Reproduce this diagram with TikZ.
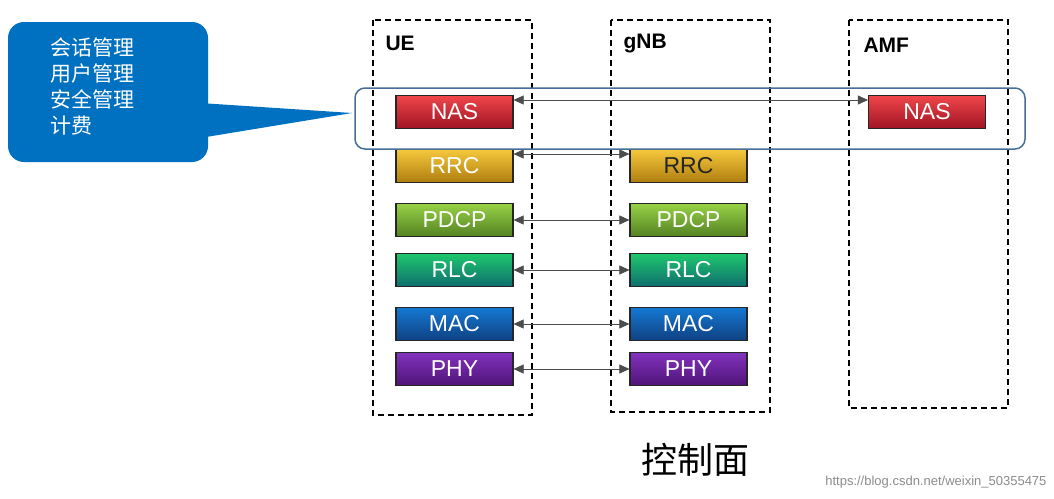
\documentclass[tikz,border=0pt]{standalone}
\usepackage{fontspec}
\setmainfont{Liberation Sans}
\newfontfamily\cjk{Noto Sans CJK SC}
\usetikzlibrary{arrows.meta}
\definecolor{callc}{RGB}{0,112,192}
\definecolor{hlc}{RGB}{70,110,150}
\definecolor{nast}{RGB}{240,70,75}\definecolor{nasb}{RGB}{160,20,35}
\definecolor{rrct}{RGB}{245,200,60}\definecolor{rrcb}{RGB}{175,125,15}
\definecolor{pdct}{RGB}{150,210,70}\definecolor{pdcb}{RGB}{85,130,35}
\definecolor{rlct}{RGB}{30,200,110}\definecolor{rlcb}{RGB}{15,110,110}
\definecolor{mact}{RGB}{20,120,210}\definecolor{macb}{RGB}{15,65,130}
\definecolor{phyt}{RGB}{130,50,190}\definecolor{phyb}{RGB}{80,20,120}
\begin{document}
\begin{tikzpicture}[x=1pt,y=-1pt,
  ent/.style={draw=black,line width=1.6pt,dash pattern=on 6pt off 4pt},
  lay/.style={draw=black!85,line width=1.2pt,minimum width=117pt,minimum height=33pt,inner sep=0pt,text=white,font=\fontsize{23}{23}\selectfont},
  lk/.style={{Triangle[length=10pt,width=9pt]}-{Triangle[length=10pt,width=9pt]},draw=black!70,line width=0.6pt},
  ttl/.style={font=\bfseries\fontsize{21}{21}\selectfont,anchor=west}]
\useasboundingbox (0,0) rectangle (1054,498);
\fill[white] (0,0) rectangle (1054,498);
% entity boxes
\draw[ent] (373,20) rectangle (532,415);
\draw[ent] (611,20) rectangle (770,412);
\draw[ent] (849,20) rectangle (1008,408);
\node[ttl] (tue) at (382,43) {UE};
\node[ttl] (tgnb) at (620,43) {gNB};
\node[ttl] (tamf) at (860,45) {AMF};
% layers
\def\lyr#1#2#3#4#5{\node[lay,top color=#3,bottom color=#4] (#1) at #2 {#5};}
\lyr{unas}{(454.5,112)}{nast}{nasb}{NAS}
\lyr{anas}{(927,112)}{nast}{nasb}{NAS}
\lyr{urrc}{(454.5,166)}{rrct}{rrcb}{RRC}
\node[lay,top color=rrct,bottom color=rrcb,text=black!85] (grrc) at (688.5,166) {RRC};
\lyr{updcp}{(454.5,220)}{pdct}{pdcb}{PDCP}
\lyr{gpdcp}{(688.5,220)}{pdct}{pdcb}{PDCP}
\lyr{urlc}{(454.5,270)}{rlct}{rlcb}{RLC}
\lyr{grlc}{(688.5,270)}{rlct}{rlcb}{RLC}
\lyr{umac}{(454.5,324)}{mact}{macb}{MAC}
\lyr{gmac}{(688.5,324)}{mact}{macb}{MAC}
\lyr{uphy}{(454.5,369)}{phyt}{phyb}{PHY}
\lyr{gphy}{(688.5,369)}{phyt}{phyb}{PHY}
% links
\draw[lk] ([yshift=12pt]unas.east) -- ([yshift=12pt]anas.west);
\draw[lk] ([yshift=12pt]urrc.east) -- ([yshift=12pt]grrc.west);
\draw[lk] (updcp.east) -- (gpdcp.west);
\draw[lk] (urlc.east) -- (grlc.west);
\draw[lk] (umac.east) -- (gmac.west);
\draw[lk] (uphy.east) -- (gphy.west);
% highlight
\draw[draw=hlc,line width=1.5pt,rounded corners=10pt] (355,88) rectangle (1025,149);
% callout
\fill[callc,rounded corners=16pt] (8,22) rectangle (208,162);
\fill[callc] (200,103) -- (352,113) -- (200,138) -- cycle;
\node[anchor=north west,text=white,align=left,font=\cjk\fontsize{21}{26}\selectfont,inner sep=0pt] (callt) at (50,38) {会话管理\\用户管理\\安全管理\\计费};
% caption
\node[font=\cjk\fontsize{36}{36}\selectfont] (cap) at (695,460) {控制面};
\node[anchor=east,text=black!45,font=\fontsize{13}{13}\selectfont] (wm) at (1050,482) {https://blog.csdn.net/weixin\_50355475};
\end{tikzpicture}
\end{document}
